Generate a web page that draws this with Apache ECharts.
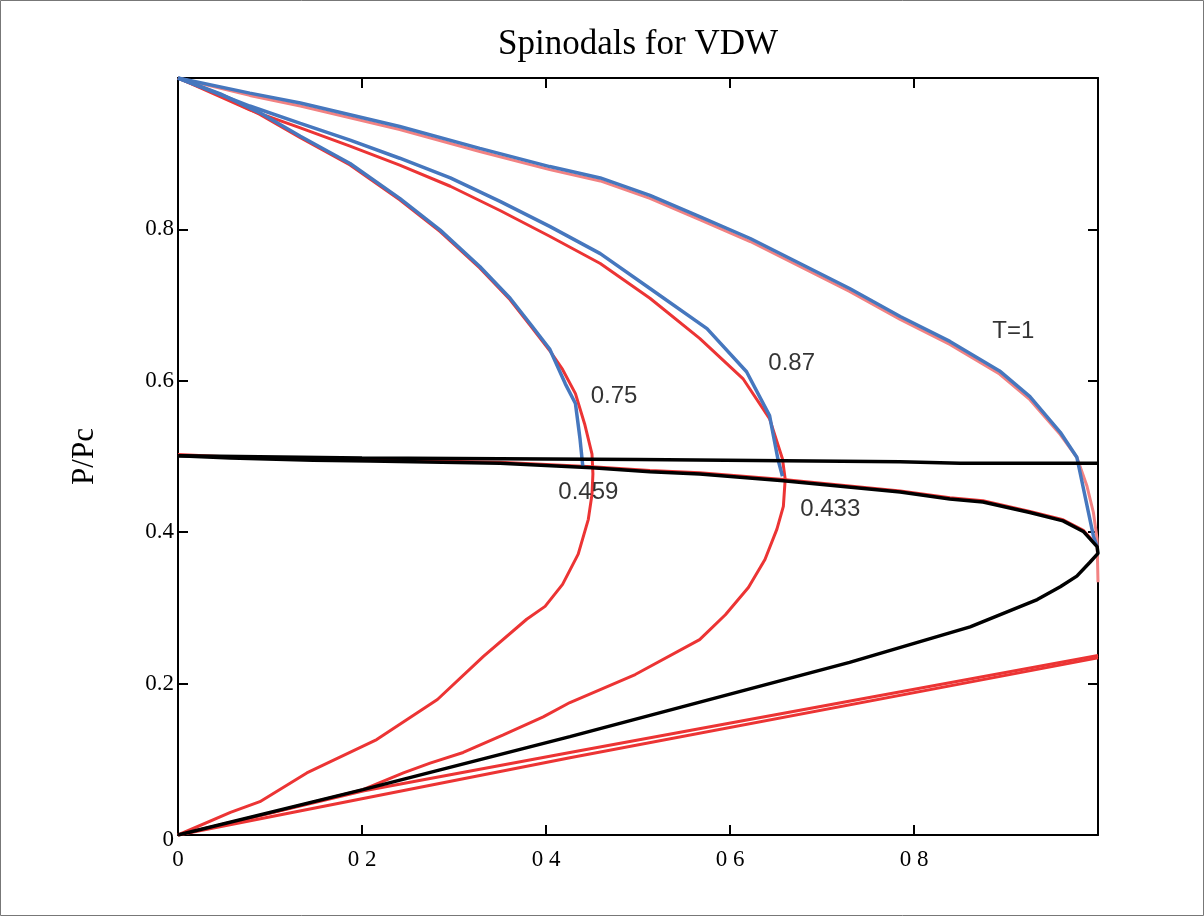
<!DOCTYPE html>
<html>
<head>
<meta charset="utf-8">
<script src="https://cdn.jsdelivr.net/npm/echarts@6/dist/echarts.min.js"></script>
<style>
html,body{margin:0;padding:0;background:#fff;}
#c{width:1204px;height:916px;}
</style>
</head>
<body>
<div id="c"></div>
<script>
// ---- data (x, P/Pc) ----
const xTicks = [0, 0.2, 0.4, 0.6, 0.8];
const yTicks = [0, 0.2, 0.4, 0.6, 0.8];

const t1Pink = [[0,1],[0.078,0.977],[0.133,0.963],[0.241,0.932],[0.328,0.903],[0.404,0.879],[0.459,0.864],[0.513,0.841],[0.567,0.813],[0.622,0.784],[0.730,0.718],[0.785,0.681],[0.839,0.648],[0.893,0.609],[0.926,0.575],[0.959,0.529],[0.977,0.499],[0.988,0.461],[0.995,0.426],[0.999,0.391],[1.0,0.334]];
const t1Blue = [[0,1],[0.078,0.980],[0.133,0.967],[0.241,0.936],[0.328,0.907],[0.404,0.883],[0.459,0.868],[0.513,0.845],[0.567,0.817],[0.622,0.788],[0.730,0.722],[0.785,0.685],[0.839,0.652],[0.893,0.613],[0.926,0.579],[0.959,0.532],[0.977,0.499],[0.995,0.395],[0.999,0.381]];

const t75Red = [[0,1],[0.046,0.977],[0.089,0.952],[0.133,0.921],[0.187,0.885],[0.241,0.839],[0.285,0.797],[0.328,0.749],[0.361,0.707],[0.383,0.673],[0.404,0.640],[0.418,0.615],[0.432,0.583],[0.442,0.543],[0.450,0.503],[0.451,0.477],[0.450,0.450],[0.446,0.417],[0.435,0.371],[0.418,0.331],[0.399,0.302],[0.379,0.285],[0.332,0.236],[0.282,0.179],[0.216,0.126],[0.140,0.082],[0.089,0.044],[0.057,0.030],[0,0]];
const t75Blue = [[0,1],[0.046,0.979],[0.089,0.954],[0.133,0.923],[0.187,0.887],[0.241,0.841],[0.285,0.799],[0.328,0.751],[0.361,0.709],[0.383,0.675],[0.404,0.642],[0.421,0.596],[0.432,0.570],[0.437,0.523],[0.440,0.487]];

const t87Red = [[0,1],[0.078,0.958],[0.133,0.934],[0.187,0.910],[0.241,0.885],[0.296,0.857],[0.350,0.825],[0.404,0.791],[0.459,0.755],[0.513,0.709],[0.567,0.656],[0.614,0.603],[0.643,0.550],[0.657,0.497],[0.660,0.470],[0.658,0.434],[0.651,0.404],[0.638,0.364],[0.620,0.327],[0.595,0.291],[0.567,0.258],[0.497,0.212],[0.426,0.175],[0.397,0.156],[0.353,0.132],[0.310,0.109],[0.274,0.095],[0.245,0.082],[0.201,0.060],[0.100,0.029],[0,0]];
const t87Blue = [[0,1],[0.078,0.963],[0.133,0.940],[0.187,0.918],[0.241,0.894],[0.296,0.868],[0.350,0.837],[0.404,0.804],[0.459,0.768],[0.513,0.722],[0.575,0.669],[0.618,0.612],[0.643,0.554],[0.652,0.497],[0.657,0.474]];

const spinUpperRed = [[0,0.5025],[0.057,0.4995],[0.147,0.4975],[0.209,0.4955],[0.350,0.4925],[0.450,0.4865],[0.513,0.4815],[0.567,0.4785],[0.658,0.4695],[0.785,0.4545],[0.839,0.4455],[0.875,0.4415],[0.926,0.4275],[0.962,0.4165],[0.984,0.4025],[0.999,0.3825]];
const spinBlack = [[0,0.501],[0.057,0.498],[0.147,0.495],[0.209,0.494],[0.350,0.491],[0.450,0.485],[0.513,0.480],[0.567,0.477],[0.658,0.468],[0.785,0.453],[0.839,0.444],[0.875,0.440],[0.926,0.426],[0.962,0.415],[0.984,0.401],[0.999,0.381],[1.0,0.372],[0.991,0.360],[0.977,0.342],[0.959,0.328],[0.934,0.311],[0.861,0.275],[0.730,0.228],[0.426,0.130],[0.201,0.060],[0,0]];
const flatBlack = [[0,0.501],[0.2,0.498],[0.5,0.496],[0.785,0.493],[0.85,0.491],[1,0.491]];

const redLineA = [[0,0],[0.426,0.102],[1,0.234]];
const redLineB = [[0,0],[0.201,0.058],[0.426,0.109],[1,0.237]];

const notes = [[0.474,0.580,'0.75'],[0.446,0.453,'0.459'],[0.667,0.623,'0.87'],[0.709,0.430,'0.433'],[0.908,0.665,'T=1']];

// ---- chart ----
const BLUE = '#4677be', RED = '#ec3434', PINK = '#f28282', BLACK = '#000';
function line(data, color, w, z) {
  return {type:'line', data:data, showSymbol:false, symbol:'none', smooth:false, z:z||2,
    lineStyle:{color:color, width:w||3}, xAxisIndex:0, yAxisIndex:0, silent:true};
}
const serif = 'Liberation Serif, Times New Roman, serif';
const baseAxis = {
  min:0, max:1, interval:0.2,
  axisLine:{show:true, onZero:false, lineStyle:{color:'#000', width:2}},
  axisTick:{show:true, inside:true, length:10, lineStyle:{color:'#000', width:2}},
  splitLine:{show:false}
};
const chart = echarts.init(document.getElementById('c'), null, {renderer:'canvas'});
chart.setOption({
  animation:false,
  backgroundColor:'#fff',
  grid:{left:178, right:106, top:78, bottom:81, containLabel:false},
  xAxis:[
    Object.assign({}, baseAxis, {type:'value', position:'bottom',
      axisLabel:{show:true, showMaxLabel:false, margin:13, color:'#000', fontFamily:serif, fontSize:23,
        formatter:function(v){ return v===0 ? '0' : '0 ' + Math.round(v*10); }}}),
    Object.assign({}, baseAxis, {type:'value', position:'top', axisLabel:{show:false}})
  ],
  yAxis:[
    Object.assign({}, baseAxis, {type:'value', position:'left',
      name:'P/Pc', nameLocation:'middle', nameGap:78, nameRotate:90,
      nameTextStyle:{color:'#000', fontFamily:serif, fontSize:31},
      axisLabel:{show:true, showMaxLabel:false, margin:4, color:'#000', fontFamily:serif, fontSize:23,
        formatter:function(v){ return v===0 ? '{z|0}' : v.toFixed(1); },
        rich:{z:{fontFamily:serif, fontSize:23, color:'#000', padding:[10,0,0,0]}}}}),
    Object.assign({}, baseAxis, {type:'value', position:'right', axisLabel:{show:false}})
  ],
  graphic:[
    {type:'rect', shape:{x:0.5, y:0.5, width:1203, height:915}, style:{fill:'none', stroke:'#777', lineWidth:1}, silent:true},
    {type:'text', x:638, y:45, style:{text:'Spinodals for VDW', textAlign:'center', textVerticalAlign:'middle', fill:'#000', font:'35px "Liberation Serif", serif'}, silent:true}
  ],
  series:[
    line(redLineA, RED, 3, 2),
    line(redLineB, RED, 3, 2),
    line(t1Pink, PINK, 3, 2),
    line(t75Red, RED, 3, 3),
    line(t87Red, RED, 3, 3),
    line(spinUpperRed, RED, 3, 3),
    line(t1Blue, BLUE, 3.5, 4),
    line(t75Blue, BLUE, 3.5, 4),
    line(t87Blue, BLUE, 3.5, 4),
    line(flatBlack, BLACK, 3.5, 5),
    line(spinBlack, BLACK, 3.5, 5),
    {type:'scatter', data:notes, symbolSize:1, z:6, silent:true,
      itemStyle:{color:'rgba(0,0,0,0)'},
      label:{show:true, position:'inside', color:'#000', textBorderWidth:0, fontFamily:'Liberation Sans, Arial, sans-serif', fontSize:24,
        formatter:function(p){ return p.data[2]; }}}
  ]
});
</script>
</body>
</html>
